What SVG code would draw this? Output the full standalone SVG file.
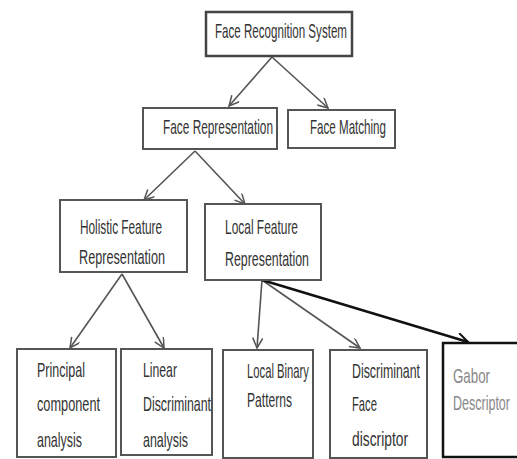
<svg xmlns="http://www.w3.org/2000/svg" width="517" height="459" viewBox="0 0 517 459">
<style>
.box{fill:#fff;stroke:#555;stroke-width:2}
.t{font-family:"Liberation Sans",Arial,sans-serif;font-size:21px;fill:#333}
.g{fill:#888}
.c{stroke:#555;stroke-width:1.6;fill:none}
.k{stroke:#111;stroke-width:2.6;fill:none}
</style>
<defs>
<marker id="a" markerUnits="userSpaceOnUse" markerWidth="14" markerHeight="14" refX="11" refY="5" orient="auto">
<path d="M1,0 L11,5 L1,10" fill="none" stroke="#555" stroke-width="1.5"/>
</marker>
<marker id="ak" markerUnits="userSpaceOnUse" markerWidth="16" markerHeight="16" refX="12" refY="6" orient="auto">
<path d="M1,0 L12,6 L1,12" fill="none" stroke="#111" stroke-width="2"/>
</marker>
</defs>
<rect width="517" height="459" fill="#fff"/>
<g id="connectors">
<line class="c" x1="272" y1="57" x2="229" y2="106" marker-end="url(#a)"/>
<line class="c" x1="272" y1="57" x2="328" y2="108" marker-end="url(#a)"/>
<line class="c" x1="195" y1="151" x2="144" y2="200" marker-end="url(#a)"/>
<line class="c" x1="195" y1="151" x2="245" y2="204" marker-end="url(#a)"/>
<line class="c" x1="122" y1="274" x2="70" y2="348" marker-end="url(#a)"/>
<line class="c" x1="122" y1="274" x2="164" y2="348" marker-end="url(#a)"/>
<line class="c" x1="262" y1="280" x2="257" y2="348" marker-end="url(#a)"/>
<line class="c" x1="262" y1="280" x2="360" y2="348" marker-end="url(#a)"/>
<line class="k" x1="262" y1="280" x2="468" y2="342" marker-end="url(#ak)"/>
</g>
<g id="face-recognition-system">
<rect class="box" x="206" y="12" width="146" height="44" style="stroke:#444;stroke-width:2.5"/>
<text class="t" x="215" y="38" textLength="132" lengthAdjust="spacingAndGlyphs">Face Recognition System</text>
</g>
<g id="face-representation">
<rect class="box" x="143" y="108" width="134" height="41"/>
<text class="t" x="163" y="134" textLength="110" lengthAdjust="spacingAndGlyphs">Face Representation</text>
</g>
<g id="face-matching">
<rect class="box" x="288" y="110" width="107" height="38"/>
<text class="t" x="310" y="134" textLength="76" lengthAdjust="spacingAndGlyphs">Face Matching</text>
</g>
<g id="holistic">
<rect class="box" x="60" y="200" width="127" height="72"/>
<text class="t" x="80" y="234" textLength="82" lengthAdjust="spacingAndGlyphs">Holistic Feature</text>
<text class="t" x="79" y="264" textLength="86" lengthAdjust="spacingAndGlyphs">Representation</text>
</g>
<g id="local">
<rect class="box" x="205" y="204" width="116" height="76"/>
<text class="t" x="225" y="234" textLength="73" lengthAdjust="spacingAndGlyphs">Local  Feature</text>
<text class="t" x="225" y="266" textLength="84" lengthAdjust="spacingAndGlyphs">Representation</text>
</g>
<g id="pca">
<rect class="box" x="17" y="349" width="99" height="108"/>
<text class="t" x="37" y="377" textLength="48" lengthAdjust="spacingAndGlyphs">Principal</text>
<text class="t" x="37" y="411" textLength="63" lengthAdjust="spacingAndGlyphs">component</text>
<text class="t" x="37" y="447" textLength="45" lengthAdjust="spacingAndGlyphs">analysis</text>
</g>
<g id="lda">
<rect class="box" x="121" y="349" width="91" height="106"/>
<text class="t" x="143" y="377" textLength="34" lengthAdjust="spacingAndGlyphs">Linear</text>
<text class="t" x="143" y="411" textLength="68" lengthAdjust="spacingAndGlyphs">Discriminant</text>
<text class="t" x="143" y="447" textLength="45" lengthAdjust="spacingAndGlyphs">analysis</text>
</g>
<g id="lbp">
<rect class="box" x="223" y="350" width="90" height="108"/>
<text class="t" x="247" y="378" textLength="62" lengthAdjust="spacingAndGlyphs">Local Binary</text>
<text class="t" x="247" y="407" textLength="45" lengthAdjust="spacingAndGlyphs">Patterns</text>
</g>
<g id="dfd">
<rect class="box" x="330" y="350" width="97" height="108"/>
<text class="t" x="352" y="378" textLength="68" lengthAdjust="spacingAndGlyphs">Discriminant</text>
<text class="t" x="352" y="411" textLength="25" lengthAdjust="spacingAndGlyphs">Face</text>
<text class="t" x="352" y="446" textLength="56" lengthAdjust="spacingAndGlyphs">discriptor</text>
</g>
<g id="gabor">
<rect x="443" y="343" width="76" height="114" fill="#fff" stroke="#111" stroke-width="2.5"/>
<text class="t g" x="453" y="383" textLength="37" lengthAdjust="spacingAndGlyphs">Gabor</text>
<text class="t g" x="453" y="410" textLength="57" lengthAdjust="spacingAndGlyphs">Descriptor</text>
</g>
</svg>
